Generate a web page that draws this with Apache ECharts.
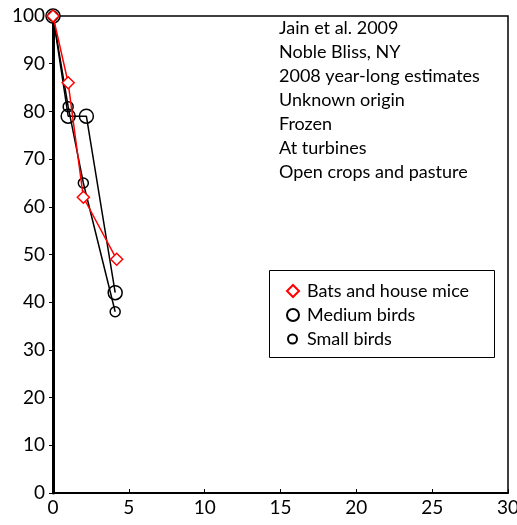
<!DOCTYPE html>
<html>
<head>
<meta charset="utf-8">
<script src="https://cdn.jsdelivr.net/npm/echarts@6/dist/echarts.min.js"></script>
<style>
  html, body { margin: 0; padding: 0; background: #fff; }
  #main { width: 517px; height: 525px; }
</style>
</head>
<body>
<div id="main"></div>
<script>
var myChart = echarts.init(document.getElementById('main'));

// values: [x, percent remaining]
var bats = [[0, 100], [1, 86], [2, 62], [4.2, 49]];
var mediumBirds = [[0, 100], [1, 79], [2.2, 79], [4.1, 42]];
var smallBirds = [[0, 100], [1, 81], [2, 65], [4.1, 38]];
var seriesNames = ['Bats and house mice', 'Medium birds', 'Small birds'];
var noteLines = [
  'Jain et al. 2009',
  'Noble Bliss, NY',
  '2008 year-long estimates',
  'Unknown origin',
  'Frozen',
  'At turbines',
  'Open crops and pasture'
];

var font = 'Lato';
var legendText = { fontFamily: font, fontSize: 18, lineHeight: 18, color: '#000' };

var option = {
  animation: false,
  textStyle: { fontFamily: font },
  grid: {
    left: 53, right: 9, top: 16, bottom: 32,
    outerBoundsMode: 'none',
    show: true, borderColor: '#000', borderWidth: 1.5
  },
  title: {
    text: noteLines.join('\n'),
    left: 274, top: 11,
    textStyle: { fontFamily: font, fontSize: 18, fontWeight: 'normal', color: '#000', lineHeight: 24 }
  },
  // frame round the two legends
  graphic: [{
    type: 'rect', left: 267, top: 268, z: 10,
    shape: { width: 225, height: 87 },
    style: { fill: null, stroke: '#000', lineWidth: 1 }
  }],
  legend: [
    {
      orient: 'vertical', left: 267, top: 268,
      padding: [14, 0, 0, 19],
      itemGap: 6, itemWidth: 12, itemHeight: 12,
      textStyle: Object.assign({ padding: [0, 0, 0, 3] }, legendText),
      data: [
        { name: seriesNames[0], icon: 'diamond', itemStyle: { color: '#fff', borderColor: '#f00', borderWidth: 2 } },
        { name: seriesNames[1], icon: 'circle', itemStyle: { color: '#fff', borderColor: '#000', borderWidth: 2 } }
      ]
    },
    {
      orient: 'vertical', left: 287, top: 330,
      padding: 0,
      itemWidth: 9, itemHeight: 9,
      textStyle: Object.assign({ padding: [0, 0, 0, 5] }, legendText),
      data: [
        { name: seriesNames[2], icon: 'circle', itemStyle: { color: '#fff', borderColor: '#000', borderWidth: 2 } }
      ]
    }
  ],
  xAxis: {
    type: 'value', min: 0, max: 30, interval: 5,
    splitLine: { show: false },
    axisLine: { lineStyle: { color: '#000', width: 2 } },
    axisTick: { inside: true, length: 4, lineStyle: { color: '#000' } },
    axisLabel: { color: '#000', fontSize: 19, margin: 5 }
  },
  yAxis: {
    type: 'value', min: 0, max: 100, interval: 10,
    splitLine: { show: false },
    axisLine: { show: true, lineStyle: { color: '#000', width: 3 } },
    axisTick: { show: true, length: 4, lineStyle: { color: '#000' } },
    axisLabel: { color: '#000', fontSize: 19, margin: 8 }
  },
  series: [
    {
      name: seriesNames[0], type: 'line', data: bats,
      symbol: 'diamond', symbolSize: 12, z: 3,
      lineStyle: { color: '#f00', width: 1.5 },
      itemStyle: { color: '#fff', borderColor: '#f00', borderWidth: 1.5 }
    },
    {
      name: seriesNames[1], type: 'line', data: mediumBirds,
      symbol: 'circle', symbolSize: 14, z: 2,
      lineStyle: { color: '#000', width: 1.5 },
      itemStyle: { color: 'rgba(0,0,0,0)', borderColor: '#000', borderWidth: 1.5 }
    },
    {
      name: seriesNames[2], type: 'line', data: smallBirds,
      symbol: 'circle', symbolSize: 10, z: 2,
      lineStyle: { color: '#000', width: 1.5 },
      itemStyle: { color: 'rgba(0,0,0,0)', borderColor: '#000', borderWidth: 1.5 }
    }
  ]
};

myChart.setOption(option);
</script>
</body>
</html>
